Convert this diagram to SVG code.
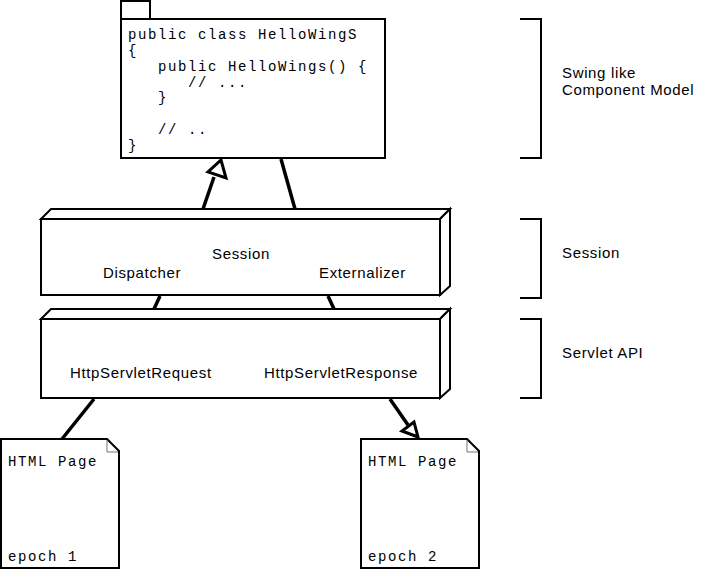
<svg xmlns="http://www.w3.org/2000/svg" width="704" height="570" viewBox="0 0 704 570">
  <style>
    .box { fill: #fff; stroke: #000; stroke-width: 2; }
    .conn { stroke: #000; stroke-width: 3.5; fill: none; }
    .head { fill: #fff; stroke: #000; stroke-width: 3; stroke-linejoin: miter; }
    .brk { fill: none; stroke: #000; stroke-width: 2; }
    .mono { font-family: "Liberation Mono", "Courier New", monospace; font-size: 14px; letter-spacing: 1.6px; fill: #000; }
    .sans { font-family: "Liberation Sans", Arial, sans-serif; font-size: 15px; letter-spacing: 0.65px; fill: #000; }
  </style>
  <rect width="704" height="570" fill="#fff"/>

  <!-- component model package -->
  <g id="package">
    <rect class="box" x="121" y="1" width="29" height="18"/>
    <rect class="box" x="121" y="19" width="264" height="139"/>
    <text class="mono" xml:space="preserve"><tspan x="128" y="39">public class HelloWingS</tspan><tspan x="128" y="55">{</tspan><tspan x="158" y="71">public HelloWings() {</tspan><tspan x="188" y="87">// ...</tspan><tspan x="158" y="102">}</tspan><tspan x="158" y="134">// ..</tspan><tspan x="128" y="150">}</tspan></text>
  </g>

  <!-- session layer -->
  <g id="session">
    <path class="box" d="M41,219 L51,209 L450,209 L440,219 Z"/>
    <path class="box" d="M440,219 L450,209 L450,286 L440,295 Z"/>
    <rect class="box" x="41" y="219" width="399" height="76"/>
    <text class="sans" x="241" y="259" text-anchor="middle">Session</text>
    <text class="sans" x="103" y="278">Dispatcher</text>
    <text class="sans" x="319" y="278">Externalizer</text>
  </g>

  <!-- servlet layer -->
  <g id="servlet">
    <path class="box" d="M41,319 L51,309 L450,309 L440,319 Z"/>
    <path class="box" d="M440,319 L450,309 L450,389 L440,398 Z"/>
    <rect class="box" x="41" y="319" width="399" height="79"/>
    <text class="sans" x="70" y="378">HttpServletRequest</text>
    <text class="sans" x="264" y="378">HttpServletResponse</text>
  </g>

  <!-- html pages -->
  <g id="page1">
    <path class="box" d="M1,439 L107,439 L119,451 L119,568 L1,568 Z"/>
    <path d="M107,440 L107,452 L118,452" fill="none" stroke="#777" stroke-width="1"/>
    <text class="mono" x="8" y="466">HTML Page</text>
    <text class="mono" x="8" y="561">epoch 1</text>
  </g>
  <g id="page2">
    <path class="box" d="M361,439 L467,439 L479,451 L479,568 L361,568 Z"/>
    <path d="M467,440 L467,452 L478,452" fill="none" stroke="#777" stroke-width="1"/>
    <text class="mono" x="368" y="466">HTML Page</text>
    <text class="mono" x="368" y="561">epoch 2</text>
  </g>

  <!-- connectors -->
  <g id="connectors">
    <line class="conn" x1="203" y1="209" x2="214" y2="177"/>
    <path class="head" d="M221,160 L226,178 L208,172 Z"/>
    <line class="conn" x1="295" y1="209" x2="281" y2="159"/>
    <line class="conn" x1="160" y1="296" x2="154" y2="309"/>
    <line class="conn" x1="328" y1="296" x2="334" y2="309"/>
    <line class="conn" x1="94" y1="399" x2="62" y2="439"/>
    <line class="conn" x1="390" y1="399" x2="408" y2="425"/>
    <path class="head" d="M418,437 L402,431 L414,422 Z"/>
  </g>

  <!-- layer brackets -->
  <g id="brackets">
    <path class="brk" d="M520,19 L541,19 L541,158 L520,158"/>
    <path class="brk" d="M520,219 L541,219 L541,298 L520,298"/>
    <path class="brk" d="M520,319 L541,319 L541,398 L520,398"/>
    <text class="sans" x="562" y="78">Swing like</text>
    <text class="sans" x="562" y="95">Component Model</text>
    <text class="sans" x="562" y="258">Session</text>
    <text class="sans" x="562" y="358">Servlet API</text>
  </g>
</svg>
